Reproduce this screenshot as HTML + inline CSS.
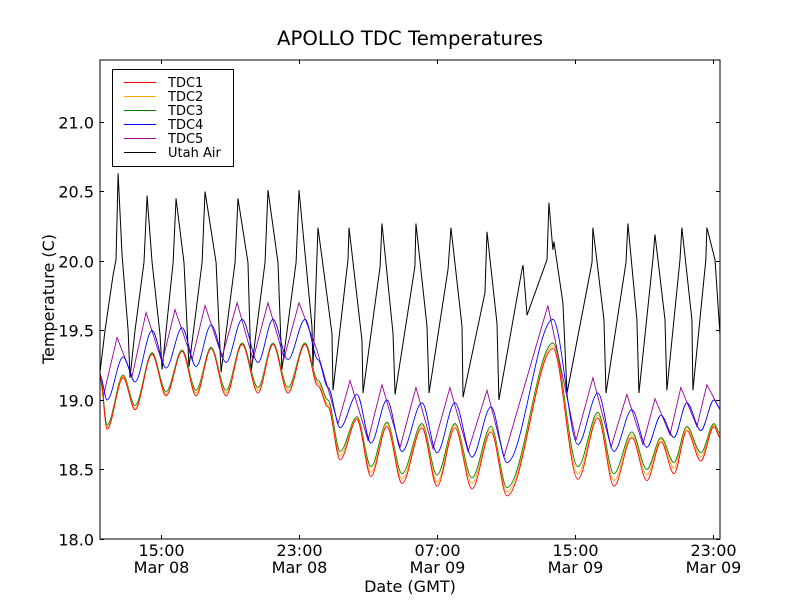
<!DOCTYPE html>
<html><head><meta charset="utf-8"><style>
body{margin:0;background:#fff}
svg text{font-family:"DejaVu Sans","Liberation Sans",sans-serif;fill:#000}
</style></head><body>
<svg id="chart" width="800" height="600" xmlns="http://www.w3.org/2000/svg">
<rect width="800" height="600" fill="#fff"/>
<text x="410" y="45" font-size="19.7" text-anchor="middle">APOLLO TDC Temperatures</text>
<text transform="translate(54,299) rotate(-90)" font-size="16" text-anchor="middle">Temperature (C)</text>
<text x="410" y="592" font-size="16" text-anchor="middle">Date (GMT)</text>
<g id="marks"></g>
<g id="axes"></g>
<g id="legend">
<rect x="112.5" y="69.5" width="121" height="97" fill="#fff" stroke="#000" stroke-width="1"/>
</g>
</svg>
<script>
const tickHours=[15,23,31,39,47];
const tickTimes=["15:00","23:00","07:00","15:00","23:00"];
const tickDates=["Mar 08","Mar 08","Mar 09","Mar 09","Mar 09"];
const yTicks=[18.0,18.5,19.0,19.5,20.0,20.5,21.0];
const seriesNames=["TDC1","TDC2","TDC3","TDC4","TDC5","Utah Air"];
const tdcHours=[11.46,11.87,12.80,13.49,14.48,15.29,16.22,17.03,17.90,18.77,19.70,20.62,21.49,22.36,23.35,24.10,24.68,25.38,26.36,27.17,28.10,28.97,30.13,31.00,32.04,33.03,34.13,35.06,37.72,39.17,40.33,41.26,42.30,43.17,43.99,44.74,45.49,46.30,47.06,47.41];
const tdc1=[19.18,18.79,19.16,18.93,19.33,19.03,19.35,19.03,19.37,19.03,19.40,19.05,19.40,19.05,19.40,19.10,18.95,18.57,18.86,18.45,18.81,18.40,18.80,18.38,18.80,18.36,18.77,18.31,19.37,18.43,18.87,18.38,18.73,18.42,18.70,18.47,18.78,18.56,18.81,18.73];
const tdc2=[19.18,18.80,19.17,18.94,19.33,19.04,19.35,19.05,19.37,19.05,19.40,19.07,19.40,19.07,19.40,19.12,18.97,18.60,18.87,18.48,18.83,18.43,18.82,18.41,18.82,18.40,18.79,18.34,19.39,18.47,18.89,18.42,18.75,18.46,18.72,18.51,18.80,18.59,18.82,18.74];
const tdc3=[19.19,18.82,19.18,18.96,19.34,19.06,19.36,19.07,19.38,19.07,19.41,19.09,19.41,19.09,19.41,19.14,19.00,18.63,18.88,18.52,18.84,18.47,18.83,18.46,18.83,18.44,18.81,18.37,19.41,18.52,18.91,18.47,18.77,18.50,18.73,18.55,18.81,18.62,18.83,18.76];
const tdc4=[19.18,19.00,19.31,19.13,19.50,19.23,19.52,19.24,19.54,19.27,19.58,19.27,19.58,19.29,19.58,19.29,19.09,18.80,19.04,18.69,19.00,18.63,18.98,18.62,18.98,18.59,18.95,18.55,19.58,18.68,19.05,18.63,18.93,18.66,18.89,18.73,18.98,18.78,19.00,18.94];
const tdc5Hours=[11.46,11.64,12.45,13.32,14.13,15.06,15.81,16.80,17.55,18.54,19.41,20.33,21.20,22.13,23.00,24.04,25.26,25.96,27.00,27.81,28.86,29.78,30.77,31.75,32.80,33.90,34.88,37.43,39.06,40.04,41.09,42.01,42.94,43.64,44.51,45.14,46.07,46.65,47.41];
const tdc5=[19.20,19.02,19.45,19.17,19.63,19.27,19.65,19.29,19.68,19.31,19.70,19.29,19.70,19.30,19.70,19.36,18.83,19.14,18.71,19.11,18.66,19.09,18.65,19.09,18.63,19.07,18.59,19.68,18.71,19.16,18.66,19.04,18.68,19.01,18.75,19.09,18.81,19.11,18.93];
const airHours=[11.46,11.75,12.22,12.39,12.51,12.74,13.09,13.20,13.49,14.01,14.19,14.48,14.94,15.06,15.70,15.87,16.33,16.62,17.38,17.55,18.19,18.48,19.29,19.46,20.04,20.22,21.03,21.20,21.78,22.01,22.83,23.00,23.75,23.81,24.10,24.91,24.97,25.84,25.90,26.65,26.71,27.70,27.81,28.45,28.57,29.72,29.78,30.42,30.54,31.64,31.81,32.45,32.51,33.78,33.90,34.48,34.59,35.93,35.99,36.22,37.38,37.49,37.72,37.78,38.30,38.54,39.99,40.04,40.68,40.80,41.96,42.07,42.59,42.71,43.52,43.64,44.22,44.33,45.09,45.20,45.78,45.84,46.59,46.65,47.12,47.41];
const airTemps=[19.20,19.50,19.90,20.01,20.63,20.04,19.50,19.16,19.50,19.99,20.47,19.99,19.47,19.22,19.99,20.45,19.99,19.24,19.99,20.50,19.99,19.20,19.99,20.45,19.99,19.20,19.99,20.51,19.99,19.22,19.99,20.51,19.53,19.24,20.24,19.48,19.07,20.01,20.24,19.43,19.05,19.96,20.27,19.48,19.04,19.96,20.27,19.53,19.05,19.94,20.24,19.53,19.02,19.77,20.21,19.55,19.00,19.94,19.97,19.61,20.01,20.42,20.08,20.14,19.70,19.05,19.99,20.24,19.58,19.05,19.99,20.27,19.58,19.05,20.01,20.19,19.58,19.07,20.01,20.24,19.58,19.07,20.01,20.24,20.01,19.47];

const L=100,R=720,T=60,B=539;
const xMin=11.46,xMax=47.41,yMin=18.0,yMax=21.446;
const xs=h=>L+(h-xMin)/(xMax-xMin)*(R-L);
const ys=v=>B-(v-yMin)/(yMax-yMin)*(B-T);
const NS="http://www.w3.org/2000/svg";
function mk(tag,attrs,parent){const e=document.createElementNS(NS,tag);for(const k in attrs)e.setAttribute(k,attrs[k]);parent.appendChild(e);return e;}
function linePath(hs,vs){return hs.map((h,i)=>(i?"L":"M")+xs(h).toFixed(2)+","+ys(vs[i]).toFixed(2)).join("");}
function smoothPath(hs,vs){
  const p=hs.map((h,i)=>[xs(h),ys(vs[i])]);
  let d="M"+p[0][0].toFixed(2)+","+p[0][1].toFixed(2);
  for(let i=0;i<p.length-1;i++){
    const p1=p[i],p2=p[i+1];
    const c1=[p1[0]+(p2[0]-p1[0])/3,p1[1]];
    const c2=[p2[0]-(p2[0]-p1[0])/3,p2[1]];
    d+="C"+c1[0].toFixed(2)+","+c1[1].toFixed(2)+" "+c2[0].toFixed(2)+","+c2[1].toFixed(2)+" "+p2[0].toFixed(2)+","+p2[1].toFixed(2);
  }
  return d;
}
const marks=document.getElementById("marks");
let e;
e=mk("path",{d:linePath(airHours,airTemps),fill:"none",stroke:"#000","stroke-width":1},marks);


e=mk("path",{d:linePath(tdc5Hours,tdc5),fill:"none",stroke:"#990099","stroke-width":0.9},marks);


e=mk("path",{d:smoothPath(tdcHours,tdc4),fill:"none",stroke:"#0000ff","stroke-width":0.9},marks);


e=mk("path",{d:smoothPath(tdcHours,tdc3),fill:"none",stroke:"#008000","stroke-width":0.9},marks);


e=mk("path",{d:smoothPath(tdcHours,tdc2),fill:"none",stroke:"#ffa500","stroke-width":0.9},marks);


e=mk("path",{d:smoothPath(tdcHours,tdc1),fill:"none",stroke:"#ff0000","stroke-width":0.9},marks);



const axes=document.getElementById("axes");
e=mk("rect",{x:L,y:T,width:R-L,height:B-T,fill:"none",stroke:"#000","stroke-width":1},axes);


yTicks.forEach(v=>{
  const y=Math.round(ys(v))+0.5;
  mk("line",{x1:L,x2:L+4,y1:y,y2:y,stroke:"#000"},axes);
  mk("line",{x1:R,x2:R-4,y1:y,y2:y,stroke:"#000"},axes);
  const t=mk("text",{x:L-6,y:y+6,"font-size":16,"text-anchor":"end"},axes);
  t.textContent=v.toFixed(1);
  
  
});
tickHours.forEach((h,i)=>{
  const x=Math.round(xs(h))+0.5;
  mk("line",{x1:x,x2:x,y1:B,y2:B-4,stroke:"#000"},axes);
  mk("line",{x1:x,x2:x,y1:T,y2:T+4,stroke:"#000"},axes);
  const t=mk("text",{x:x,y:B+17,"font-size":16,"text-anchor":"middle"},axes);
  t.textContent=tickTimes[i];
  
  
  const d=mk("text",{x:x,y:B+34,"font-size":16,"text-anchor":"middle"},axes);
  d.textContent=tickDates[i];
  
  
});
const legColors=["#ff0000","#ffa500","#008000","#0000ff","#990099","#000000"];
const leg=document.getElementById("legend");
seriesNames.forEach((n,i)=>{
  const y=82+i*14;
  const g=mk("g",{},leg);
  
  
  mk("line",{x1:124,x2:156,y1:y+0.5,y2:y+0.5,stroke:legColors[i],"stroke-width":1},g);
  const t=mk("text",{x:168,y:y+5,"font-size":13},g);
  t.textContent=n;
});
</script>
</body></html>
